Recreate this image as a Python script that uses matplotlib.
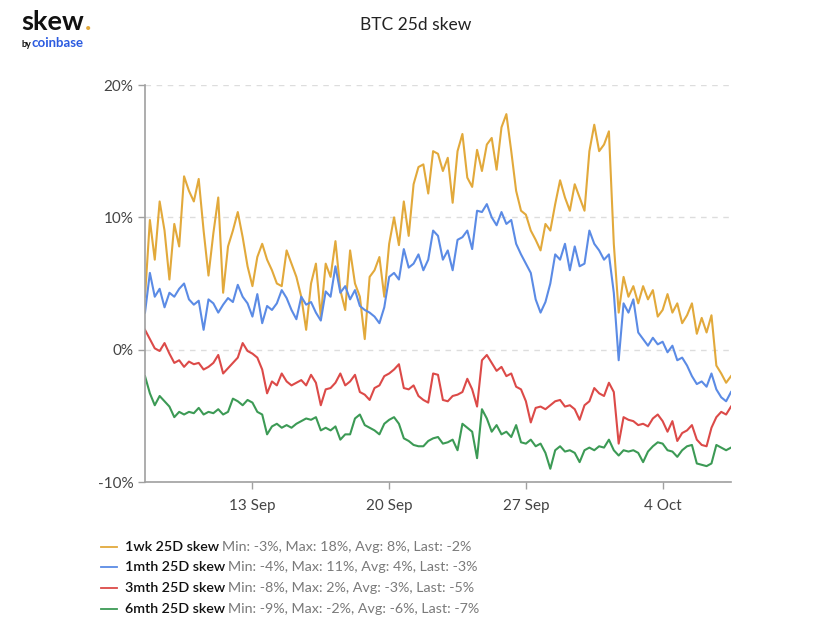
import matplotlib
matplotlib.use("Agg")
import matplotlib.pyplot as plt
import matplotlib.dates as mdates
from matplotlib.lines import Line2D
import numpy as np
import pandas as pd

plt.rcParams['font.family'] = ['Lato', 'DejaVu Sans']

# ---------------- data (values in %) ----------------
times = pd.date_range("2021-09-07 12:00", periods=121, freq="6h")

wk1 = [4.0, 9.8, 6.8, 11.2, 9.0, 5.3, 9.5, 7.8, 13.1, 12.0,
       11.2, 12.9, 9.0, 5.6, 8.8, 11.5, 4.3, 7.8, 9.0, 10.4,
       8.5, 6.3, 4.8, 7.0, 8.0, 6.8, 6.0, 5.0, 4.8, 7.5,
       6.5, 5.5, 4.0, 1.5, 5.0, 6.5, 2.5, 6.5, 5.5, 8.2,
       4.5, 3.0, 7.5, 5.0, 4.0, 0.8, 5.5, 6.0, 7.0, 4.0,
       8.0, 10.0, 7.9, 11.2, 8.6, 12.5, 13.8, 14.0, 11.8, 15.0,
       14.8, 13.5, 14.5, 11.1, 15.0, 16.3, 13.0, 12.3, 15.1, 13.5,
       15.5, 16.0, 13.6, 16.8, 17.8, 15.0, 12.0, 10.5, 10.2, 9.0,
       8.3, 7.5, 9.5, 9.0, 11.0, 12.8, 11.5, 10.5, 12.5, 11.5,
       10.5, 15.0, 17.0, 15.0, 15.5, 16.5, 8.0, 2.8, 5.5, 4.0,
       4.8, 3.5, 4.8, 3.8, 4.5, 2.5, 3.0, 4.2, 2.8, 3.5,
       2.0, 2.6, 3.5, 1.2, 2.4, 1.3, 2.6, -1.2, -1.8, -2.5,
       -2.0]

mth1 = [2.8, 5.8, 4.0, 4.6, 3.2, 4.3, 4.0, 4.6, 5.0, 3.8,
        3.4, 3.7, 1.5, 3.8, 3.5, 2.8, 3.4, 3.9, 3.6, 4.9,
        4.0, 3.5, 2.5, 4.2, 2.0, 3.3, 3.0, 3.5, 4.5, 3.9,
        3.0, 2.3, 4.0, 3.4, 3.6, 2.8, 2.2, 4.4, 4.0, 6.3,
        4.3, 4.8, 3.8, 4.5, 3.3, 3.0, 2.8, 2.5, 2.0, 3.2,
        5.5, 5.8, 5.3, 7.6, 6.2, 6.5, 7.2, 6.0, 6.8, 9.0,
        8.6, 6.8, 7.5, 6.0, 8.3, 8.5, 9.0, 7.6, 10.5, 10.4,
        11.0, 10.0, 9.4, 10.4, 9.5, 9.8, 8.0, 7.2, 6.5, 5.8,
        3.8, 2.8, 3.6, 5.0, 7.2, 6.8, 8.0, 6.0, 7.8, 6.3,
        6.5, 9.0, 8.0, 7.5, 6.8, 7.2, 4.3, -0.8, 3.5, 2.8,
        3.8, 1.3, 0.8, 0.3, 0.9, 0.4, 0.6, -0.2, 0.3, -0.8,
        -0.6, -1.2, -2.0, -2.6, -2.4, -2.8, -1.8, -3.0, -3.6, -3.9,
        -3.2]

mth3 = [1.5, 0.8, 0.1, -0.1, 0.5, -0.3, -1.0, -0.8, -1.3, -0.9,
        -1.1, -1.0, -1.5, -1.3, -1.0, -0.4, -1.8, -1.4, -1.0, -0.6,
        0.5, -0.1, -0.3, -0.6, -1.5, -3.3, -2.4, -2.7, -1.8, -2.4,
        -2.7, -2.5, -2.3, -2.7, -1.9, -2.5, -4.2, -3.0, -2.9, -2.5,
        -1.8, -2.7, -2.4, -1.9, -3.2, -3.4, -3.8, -2.9, -2.7, -2.0,
        -1.8, -1.5, -1.1, -2.9, -3.0, -2.7, -3.5, -3.8, -4.0, -1.8,
        -1.9, -3.8, -3.9, -3.5, -3.4, -3.2, -2.2, -3.0, -4.3, -0.8,
        -0.4, -1.0, -1.6, -1.3, -2.0, -1.8, -2.8, -3.0, -3.9, -5.5,
        -4.4, -4.3, -4.5, -4.2, -3.9, -3.8, -4.3, -4.2, -4.5, -5.3,
        -4.2, -3.9, -2.9, -3.3, -3.5, -2.5, -3.2, -7.1, -5.1, -5.3,
        -5.4, -5.7, -5.6, -5.8, -5.2, -4.9, -5.4, -6.2, -5.4, -6.9,
        -6.3, -6.1, -5.7, -6.8, -7.2, -7.3, -5.9, -5.1, -4.7, -4.9,
        -4.3]

mth6 = [-2.0, -3.3, -4.2, -3.5, -3.9, -4.3, -5.1, -4.7, -4.9, -4.7,
        -4.8, -4.4, -4.9, -4.7, -4.8, -4.5, -4.9, -4.7, -3.7, -3.9,
        -4.2, -3.8, -4.0, -4.7, -4.9, -6.4, -5.8, -5.6, -5.9, -5.7,
        -5.9, -5.6, -5.4, -5.2, -5.3, -5.1, -6.1, -5.9, -6.1, -5.8,
        -6.8, -6.4, -6.4, -5.2, -4.9, -5.7, -5.9, -6.1, -6.4, -5.6,
        -5.3, -5.1, -5.6, -6.7, -6.9, -7.2, -7.3, -7.3, -6.9, -6.7,
        -6.6, -7.1, -7.0, -6.8, -7.6, -5.6, -5.9, -6.2, -8.2, -4.5,
        -5.2, -6.2, -5.7, -6.4, -6.2, -6.6, -5.7, -7.0, -7.1, -6.8,
        -7.3, -7.1, -7.8, -9.0, -7.6, -7.3, -7.7, -7.6, -7.8, -8.5,
        -7.6, -7.4, -7.6, -7.3, -7.4, -6.8, -7.6, -8.0, -7.6, -7.7,
        -7.6, -7.8, -8.5, -7.7, -7.3, -7.0, -7.1, -7.6, -7.7, -8.1,
        -7.6, -7.3, -7.2, -8.6, -8.7, -8.8, -8.6, -7.2, -7.4, -7.6,
        -7.4]

series_names = ["1wk 25D skew", "1mth 25D skew", "3mth 25D skew", "6mth 25D skew"]
series_stats = ["Min: -3%, Max: 18%, Avg: 8%, Last: -2%",
                "Min: -4%, Max: 11%, Avg: 4%, Last: -3%",
                "Min: -8%, Max: 2%, Avg: -3%, Last: -5%",
                "Min: -9%, Max: -2%, Avg: -6%, Last: -7%"]
series_values = [wk1, mth1, mth3, mth6]
colors = ["#E2A93B", "#5B8BE5", "#DC4A48", "#3C9A55"]

y_ticks = [-10, 0, 10, 20]
x_ticks = ["2021-09-13", "2021-09-20", "2021-09-27", "2021-10-04"]

# ---------------- figure ----------------
fig = plt.figure(figsize=(8.32, 6.24), dpi=100)
ax = fig.add_axes([145/832, 1-482/624, (731-145)/832, (482-85)/624])

for vals, c in zip(series_values, colors):
    ax.plot(times, vals, color=c, lw=1.5, solid_joinstyle='round')

ax.set_ylim(-10, 20)
ax.set_xlim(times[0], times[-1])
ax.set_yticks(y_ticks)
ax.set_yticklabels([f"{v}%" for v in y_ticks])
ax.set_xticks(pd.to_datetime(x_ticks))
ax.xaxis.set_major_formatter(mdates.DateFormatter("%-d %b"))
ax.grid(axis='y', color='#dddddd', ls=(0, (4, 4)), lw=1)
ax.set_axisbelow(True)
for s in ['top', 'right']:
    ax.spines[s].set_visible(False)
for s in ['left', 'bottom']:
    ax.spines[s].set_color('#a0a0a0')
    ax.spines[s].set_linewidth(1.2)
ax.tick_params(axis='both', colors='#a0a0a0', labelcolor='#444444',
               labelsize=11, length=5, width=1)
ax.tick_params(axis='x', pad=7)

# title
fig.text(416/832, 1-25/624, "BTC 25d skew", ha='center', va='center',
         fontsize=12.5, color='#222222')

# logo
fig.canvas.draw()
renderer = fig.canvas.get_renderer()
sk = fig.text(21/832, 1-30/624, "skew", ha='left', va='baseline', fontsize=19.5,
              fontweight='bold', color='#111111')
skb = sk.get_window_extent(renderer)
fig.text((skb.x1 + 1)/832, 1-30/624, ".", ha='left', va='baseline', fontsize=19.5,
         fontweight='bold', color='#E2A93B')
fig.text(21/832, 1-47/624, "by", ha='left', va='baseline', fontsize=6.5,
         color='#111111', fontweight='bold')
fig.text(32/832, 1-47/624, "coinbase", ha='left', va='baseline', fontsize=9.5,
         color='#2B5BE0', fontweight='bold')

# legend
row_y = [547, 567, 588, 609]
for name, stats, c, ry in zip(series_names, series_stats, colors, row_y):
    yf = 1 - ry/624
    fig.add_artist(Line2D([101/832, 117/832], [yf, yf], color=c, lw=1.3))
    t = fig.text(125/832, yf, name, ha='left', va='center', fontsize=10.3,
                 color='#111111', fontweight='semibold')
    bb = t.get_window_extent(renderer)
    fig.text((bb.x1 + 3)/832, yf, stats, ha='left', va='center', fontsize=10.3,
             color='#7a7a7a')

fig.savefig("out.png", dpi=100)
